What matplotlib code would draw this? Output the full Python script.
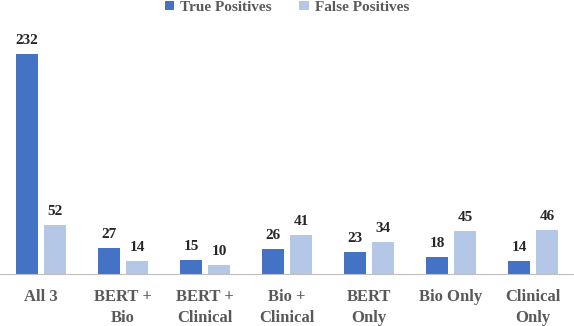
import matplotlib
matplotlib.use("Agg")
import matplotlib.pyplot as plt
import numpy as np

categories = ["All 3", "BERT +\nBio", "BERT +\nClinical", "Bio +\nClinical", "BERT\nOnly", "Bio Only", "Clinical\nOnly"]
true_pos = [232, 27, 15, 26, 23, 18, 14]
false_pos = [52, 14, 10, 41, 34, 45, 46]

plt.rcParams['font.family'] = ['Liberation Serif', 'DejaVu Serif']
fig = plt.figure(figsize=(5.74, 3.26), dpi=100)
ax = fig.add_axes([0.0, 52/326, 1.0, 1 - 52/326 - 20/326])

x = np.arange(len(categories))
w = 0.27
off = 0.17
b1 = ax.bar(x - off, true_pos, w, color="#4472C4", label="True Positives")
b2 = ax.bar(x + off, false_pos, w, color="#B4C7E7", label="False Positives")

for bars in (b1, b2):
    for r in bars:
        ax.annotate(f"{int(r.get_height())}", (r.get_x() + r.get_width()/2, r.get_height()),
                    xytext=(0, 5), textcoords="offset points", ha="center", va="bottom",
                    fontsize=11, fontweight="bold", color="#262626")

ax.set_xlim(-0.5, len(categories) - 0.5)
ax.set_ylim(0, 268)
ax.set_yticks([])
ax.set_xticks(x)
ax.set_xticklabels(categories, fontsize=12, fontweight="bold", color="#595959", linespacing=1.45)
ax.tick_params(axis="x", length=0, pad=10.5)
for s in ["top", "left", "right"]:
    ax.spines[s].set_visible(False)
ax.spines["bottom"].set_color("#BFBFBF")
ax.spines["bottom"].set_linewidth(0.8)

leg = fig.legend(handles=[b1, b2], loc="upper center", bbox_to_anchor=(0.5, 1.04), ncol=2,
                 frameon=False, fontsize=11, handlelength=0.6, handleheight=0.6,
                 columnspacing=1.8, handletextpad=0.4)
for t in leg.get_texts():
    t.set_color("#595959")
    t.set_fontweight("bold")

fig.savefig("out.png", dpi=100)
